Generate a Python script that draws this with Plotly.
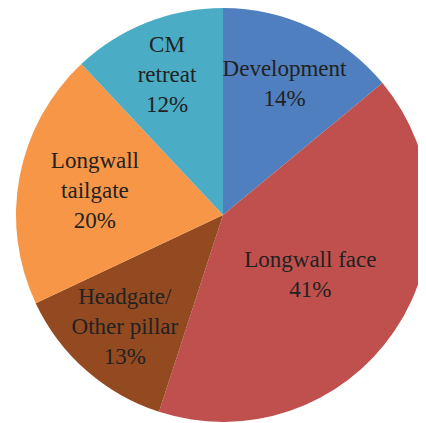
import plotly.graph_objects as go

labels = ["Development", "Longwall face", "Headgate/<br>Other pillar", "Longwall<br>tailgate", "CM<br>retreat"]
values = [14, 41, 13, 20, 12]
colors = ["#4F7FBE", "#C0504D", "#934A21", "#F79646", "#4BACC6"]

fig = go.Figure(go.Pie(
    labels=labels,
    values=values,
    sort=False,
    direction="clockwise",
    rotation=0,
    marker=dict(colors=colors, line=dict(width=0)),
    texttemplate="%{label}<br>%{value}%",
    textposition="inside",
    insidetextorientation="horizontal",
    insidetextfont=dict(family="Liberation Serif", size=23, color="#222222"),
    hoverinfo="label+percent",
    showlegend=False,
))
fig.update_layout(
    width=426, height=423,
    margin=dict(l=8, r=4, t=0, b=9),
    paper_bgcolor="white",
    font=dict(family="Liberation Serif"),
    uniformtext=dict(minsize=23, mode="show"),
)
fig.write_html("out.html")
